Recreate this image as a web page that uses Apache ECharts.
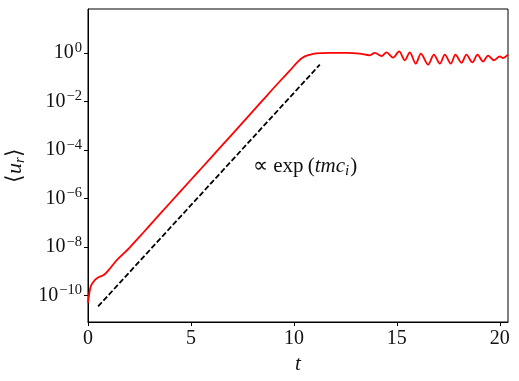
<!DOCTYPE html>
<html>
<head>
<meta charset="utf-8">
<script src="https://cdn.jsdelivr.net/npm/echarts@6/dist/echarts.min.js"></script>
<style>
  html, body { margin: 0; padding: 0; background: #fff; }
  #main { width: 519px; height: 381px; }
</style>
</head>
<body>
<div id="main"></div>
<script>
// <u_r>(t)
var tVals = [0, 0.05, 0.13, 0.25, 0.45, 0.78, 1.02, 1.34, 1.67, 2.0,
  2.5, 3.0, 4.0, 5.0, 5.52, 6.5, 7.5, 8.5, 8.92, 9.32,
  9.81, 10.21, 10.53, 10.94, 11.35, 11.75, 12.56, 13.2, 13.69, 13.93,
  14.26, 14.5, 14.82, 15.11, 15.39, 15.63, 15.92, 16.17, 16.52, 16.8,
  17.09, 17.33, 17.62, 17.85, 18.14, 18.38, 18.67, 18.92, 19.19, 19.43,
  19.72, 20.0, 20.16, 20.4]
var urVals = [4.9e-11, 1e-10, 2.3e-10, 3.5e-10, 5.2e-10, 7.1e-10, 1.15e-9, 2.5e-9, 4.8e-9, 9e-9,
  2.6e-8, 7.8e-8, 6.8e-7, 5.9e-6, 1.8e-5, 1.5e-4, 1.3e-3, 1.15e-2, 2.9e-2, 6.8e-2,
  0.19, 0.45, 0.72, 0.91, 0.98, 1.0, 1.0, 0.93, 0.8, 1.0,
  0.74, 1.05, 0.64, 1.16, 0.5, 1.05, 0.36, 0.93, 0.33, 0.85,
  0.36, 0.85, 0.36, 0.85, 0.39, 0.85, 0.41, 0.85, 0.44, 0.77,
  0.5, 0.72, 0.62, 0.85]

// guide line  ~ exp(t m c_i)
var fitT = [0.49, 11.26]
var fitU = [3.5e-11, 0.33]

var xTicks = [0, 5, 10, 15, 20]
var yTicks = [1e-10, 1e-8, 1e-6, 1e-4, 1e-2, 1]

var serif = 'Liberation Serif'
var ink = '#111'

function pairs (xs, ys) {
  var res = []
  for (var i = 0; i < xs.length; i++) res.push([xs[i], ys[i]])
  return res
}

var myChart = echarts.init(document.getElementById('main'))

myChart.setOption({
  animation: false,
  grid: {
    left: 88, right: 11, top: 9, bottom: 59,
    outerBoundsMode: 'none',
    containLabel: false,
    show: true, borderColor: '#000', borderWidth: 1
  },
  xAxis: {
    type: 'value',
    min: 0, max: 20.4,
    name: 't',
    nameLocation: 'middle',
    nameGap: 29,
    nameTextStyle: { fontFamily: serif, fontStyle: 'italic', fontSize: 21, color: ink },
    axisLine: { lineStyle: { color: '#000' } },
    axisTick: { length: 4, customValues: xTicks, lineStyle: { color: '#000' } },
    axisLabel: { customValues: xTicks, margin: 7, fontFamily: serif, fontSize: 20, color: ink },
    splitLine: { show: false }
  },
  yAxis: {
    type: 'log',
    logBase: 100,
    min: 8e-12, max: 65,
    name: '{n|\u27E8}{i|u}{s|r}{n|\u27E9}',
    nameLocation: 'middle',
    nameGap: 58,
    nameTextStyle: {
      color: ink,
      rich: {
        n: { fontFamily: serif, fontSize: 22, color: ink },
        i: { fontFamily: serif, fontStyle: 'italic', fontSize: 22, color: ink },
        s: { fontFamily: serif, fontStyle: 'italic', fontSize: 15, color: ink, padding: [9, 0, 0, 0] }
      }
    },
    axisLine: { lineStyle: { color: '#000' } },
    axisTick: { length: 4, customValues: yTicks, lineStyle: { color: '#000' } },
    axisLabel: {
      customValues: yTicks,
      margin: 6,
      formatter: function (v) {
        var e = Math.round(Math.log10(v))
        return '{b|10}{s|' + (e < 0 ? '\u2212' + (-e) : e) + '}'
      },
      rich: {
        b: { fontFamily: serif, fontSize: 20, color: ink, lineHeight: 21 },
        s: { fontFamily: serif, fontSize: 14.5, color: ink, lineHeight: 14, padding: [0, 0, 10, 1] }
      }
    },
    splitLine: { show: false }
  },
  graphic: [{
    type: 'text',
    left: 253,
    top: 156,
    style: {
      text: '{n|\u221D exp\u2009(}{i|tmc}{s|i}{n|)}',
      rich: {
        n: { fontFamily: serif, fontSize: 21, fill: ink },
        i: { fontFamily: serif, fontStyle: 'italic', fontSize: 21, fill: ink },
        s: { fontFamily: serif, fontStyle: 'italic', fontSize: 15, fill: ink, padding: [9, 1, 0, 0] }
      }
    }
  }],
  series: [{
    type: 'line',
    data: pairs(tVals, urVals),
    showSymbol: false,
    smooth: 0.3,
    lineStyle: { color: '#ff0000', width: 1.8 },
    z: 3
  }, {
    type: 'line',
    data: pairs(fitT, fitU),
    showSymbol: false,
    lineStyle: { color: '#000', width: 1.8, type: [5.5, 2.4] },
    z: 2
  }]
})
</script>
</body>
</html>
